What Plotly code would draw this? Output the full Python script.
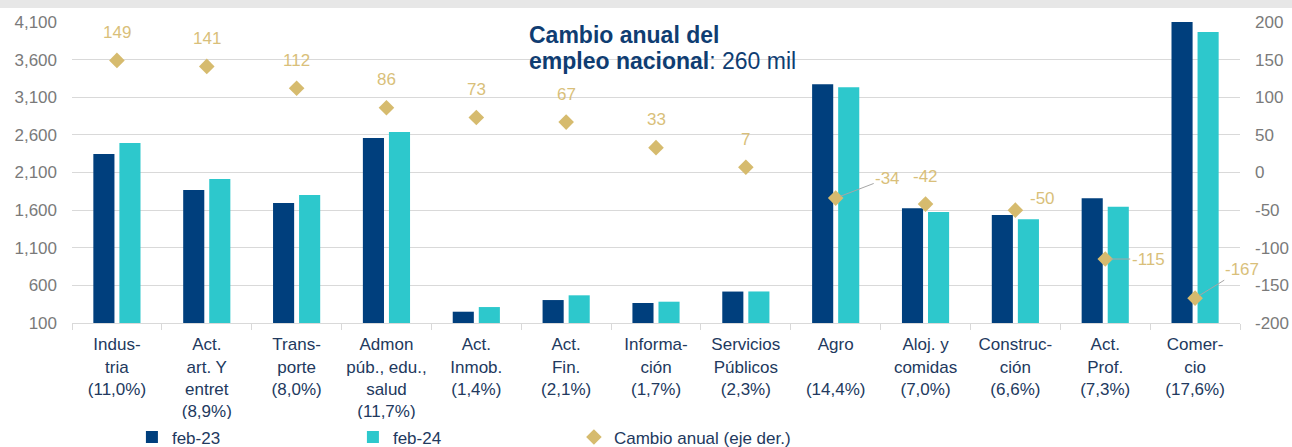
import plotly.graph_objects as go

categories = [
    "Indus-<br>tria<br>(11,0%)",
    "Act.<br>art. Y<br>entret<br>(8,9%)",
    "Trans-<br>porte<br>(8,0%)",
    "Admon<br>púb., edu.,<br>salud<br>(11,7%)",
    "Act.<br>Inmob.<br>(1,4%)",
    "Act.<br>Fin.<br>(2,1%)",
    "Informa-<br>ción<br>(1,7%)",
    "Servicios<br>Públicos<br>(2,3%)",
    "Agro<br>\u00a0<br>(14,4%)",
    "Aloj. y<br>comidas<br>(7,0%)",
    "Construc-<br>ción<br>(6,6%)",
    "Act.<br>Prof.<br>(7,3%)",
    "Comer-<br>cio<br>(17,6%)",
]
feb23 = [2346, 1867, 1695, 2558, 250, 405, 366, 518, 3272, 1624, 1535, 1757, 4130]
feb24 = [2492, 2013, 1801, 2638, 312, 468, 383, 519, 3232, 1575, 1478, 1646, 3967]
cambio = [149, 141, 112, 86, 73, 67, 33, 7, -34, -42, -50, -115, -167]

left_ticks = [100, 600, 1100, 1600, 2100, 2600, 3100, 3600, 4100]
right_ticks = [-200, -150, -100, -50, 0, 50, 100, 150, 200]

title_bold_1 = "Cambio anual del"
title_bold_2 = "empleo nacional"
title_rest_2 = ": 260 mil"

# label placement styles (pixel offsets)
label_style = {
    -34: ("arrow", 52, -20),
    -50: ("shift", 27, 12),
    -115: ("arrow", 43, 0),
    -167: ("arrow", 47, -29),
}

FONT = "Liberation Sans, Arial, sans-serif"
DARK = "#003F7D"
LIGHT = "#2DC8CC"
GOLD = "#D6BB6E"
GOLD_TXT = "#D9BF7A"
NAVY_TXT = "#22395E"
TITLE_C = "#0F3D72"
GRID = "#D9D9D9"

fig = go.Figure()
fig.add_trace(go.Bar(x=categories, y=feb23, name="feb-23", marker_color=DARK,
                     marker_line_width=0))
fig.add_trace(go.Bar(x=categories, y=feb24, name="feb-24", marker_color=LIGHT,
                     marker_line_width=0))
fig.add_trace(go.Scatter(x=categories, y=cambio, name="Cambio anual (eje der.)",
                         mode="markers", yaxis="y2",
                         marker=dict(symbol="diamond", size=12, color=GOLD)))

annotations = []
for c, v in zip(categories, cambio):
    style = label_style.get(v)
    base = dict(x=c, y=v, xref="x", yref="y2", text=str(v),
                font=dict(family=FONT, size=17, color=GOLD_TXT))
    if style is None:
        annotations.append(dict(**base, showarrow=False, yshift=28))
    elif style[0] == "shift":
        annotations.append(dict(**base, showarrow=False, xshift=style[1], yshift=style[2]))
    else:
        annotations.append(dict(**base, showarrow=True, arrowhead=0, arrowwidth=1,
                                arrowcolor="#A6A6A6", ax=style[1], ay=style[2],
                                standoff=5))

tx = (527 - 72) / 1168
annotations.append(dict(
    xref="paper", yref="paper", x=tx, y=1 - (35 - 22) / 301,
    xanchor="left", yanchor="middle", showarrow=False,
    text="<b>" + title_bold_1 + "</b>",
    font=dict(family=FONT, size=23, color=TITLE_C),
))
annotations.append(dict(
    xref="paper", yref="paper", x=tx, y=1 - (61 - 22) / 301,
    xanchor="left", yanchor="middle", showarrow=False,
    text="<b>" + title_bold_2 + "</b>" + title_rest_2,
    font=dict(family=FONT, size=23, color=TITLE_C),
))

fig.update_layout(
    width=1292, height=447,
    margin=dict(l=72, r=52, t=22, b=124, autoexpand=False),
    paper_bgcolor="white", plot_bgcolor="white",
    barmode="group", bargap=0.42, bargroupgap=0.19,
    font=dict(family=FONT, size=17, color=NAVY_TXT),
    showlegend=True,
    legend=dict(orientation="h", x=0.0513, y=-0.38, xanchor="left", yanchor="middle",
                entrywidth=176, entrywidthmode="pixels",
                font=dict(family=FONT, size=17, color=NAVY_TXT),
                itemsizing="constant", traceorder="normal"),
    annotations=annotations,
    shapes=[dict(type="rect", xref="paper", yref="paper", x0=-0.1, x1=1.1,
                 y0=1 + 14 / 301, y1=1.2, fillcolor="#E7E7E7", line_width=0,
                 layer="above")],
    xaxis=dict(range=[-0.5, len(categories) - 0.5],
               showline=True, linecolor=GRID, linewidth=1, ticks="outside",
               tickson="boundaries", ticklen=6, tickcolor=GRID, tickangle=0,
               ticklabelstandoff=6,
               tickfont=dict(family=FONT, size=17, color=NAVY_TXT),
               showgrid=False),
    yaxis=dict(range=[100, 4100], tickvals=left_ticks, tickformat=",",
               showgrid=True, gridcolor=GRID, gridwidth=1, zeroline=False,
               ticks="", ticklabelstandoff=14,
               tickfont=dict(family=FONT, size=17, color="#7A7A7A")),
    yaxis2=dict(range=[-200, 200], overlaying="y", side="right",
                tickvals=right_ticks, ticktext=[str(t) for t in right_ticks],
                showgrid=False, zeroline=False, ticks="", ticklabelstandoff=14,
                tickfont=dict(family=FONT, size=17, color="#7A7A7A")),
)

fig.write_html("out.html", config={"displayModeBar": False},
               post_script="document.body.style.margin='0';document.body.style.overflow='hidden';")
